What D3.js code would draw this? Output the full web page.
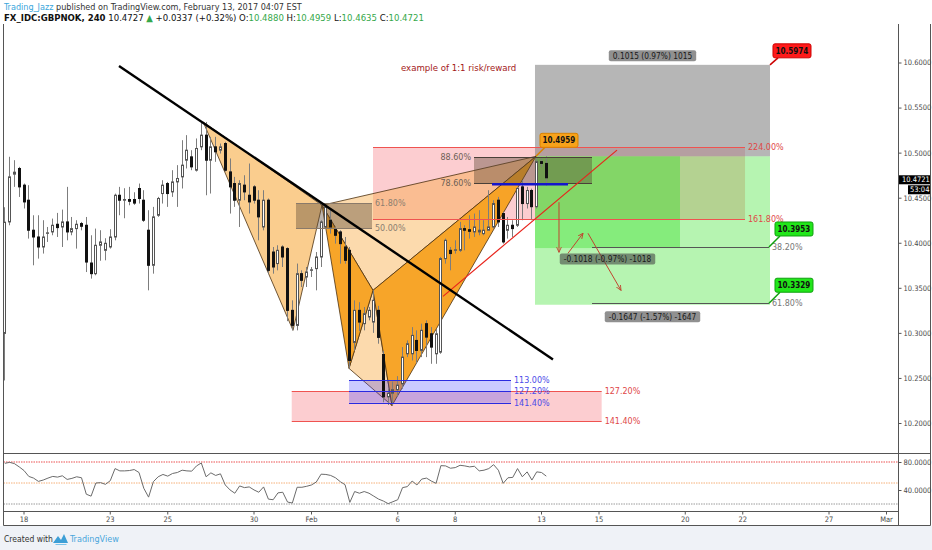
<!DOCTYPE html>
<html><head><meta charset="utf-8">
<script src="https://cdn.jsdelivr.net/npm/d3@7"></script>
<style>body{margin:0;background:#fff}svg{display:block}</style>
</head><body><svg id="c" width="932" height="550"></svg>
<script>
// ---------- DATA ----------
const dayTickPos = [0,3,5,8,10,13,15,18,20,23,25,28,30];
const dayTickLabels = ["18","23","25","30","Feb","6","8","13","15","20","22","27","Mar"];
const priceTicks = [10.20,10.25,10.30,10.35,10.40,10.45,10.50,10.55,10.60];
const rsiTicks = [40,80];
const rsiBands = [80,50,20];

const opens = [10.2994,10.4231,10.4761,10.4824,10.4639,10.4472,10.4139,10.4064,10.3953,10.4105,
10.4120,10.4205,10.4175,10.4231,10.4120,10.4157,10.4213,10.4194,10.3775,10.3657,
10.3972,10.3916,10.3953,10.4064,10.4527,10.4472,10.4480,10.4480,10.4602,10.4472,
10.4139,10.3750,10.4305,10.4546,10.4657,10.4564,10.4675,10.4731,10.4916,10.4953,
10.4805,10.5064,10.5194,10.4916,10.5064,10.5027,10.5101,10.4786,10.4657,10.4472,
10.4639,10.4527,10.4620,10.4472,10.4175,10.4472,10.3897,10.3769,10.3953,10.3935,
10.3250,10.3083,10.3657,10.3620,10.3694,10.3713,10.3842,10.4175,10.4250,10.4157,
10.4120,10.3953,10.3916,10.2894,10.3250,10.3102,10.3176,10.3120,10.3250,10.2760,
10.2290,10.2330,10.2370,10.2435,10.2768,10.2768,10.2916,10.2805,10.3102,10.2990,
10.2768,10.2786,10.3824,10.3916,10.3916,10.3916,10.4157,10.4145,10.4120,10.4120,
10.4101,10.4139,10.4175,10.4472,10.4324,10.4138,10.4194,10.4194,10.4620,10.4435,
10.4580,10.4400,10.4900,10.4880];
const highs = [10.4394,10.4954,10.4916,10.4842,10.4657,10.4639,10.4305,10.4305,10.4250,10.4175,
10.4268,10.4331,10.4368,10.4620,10.4286,10.4250,10.4231,10.4286,10.4083,10.4157,
10.4139,10.4050,10.4150,10.4545,10.4620,10.4605,10.4620,10.4560,10.4657,10.4583,
10.4361,10.4398,10.4509,10.4694,10.4675,10.4805,10.4861,10.5138,10.5194,10.5027,
10.5157,10.5330,10.5340,10.5175,10.5175,10.5101,10.5120,10.4935,10.4731,10.4694,
10.4749,10.4879,10.4639,10.4583,10.4583,10.4491,10.3953,10.3972,10.3972,10.3950,
10.3361,10.3769,10.3694,10.3731,10.3731,10.3897,10.4250,10.4416,10.4361,10.4175,
10.4139,10.4064,10.3953,10.3361,10.3340,10.3287,10.3287,10.3472,10.3300,10.2800,
10.2380,10.2460,10.2520,10.2842,10.2916,10.3064,10.3028,10.3102,10.3139,10.3064,
10.3046,10.3842,10.4046,10.3953,10.4027,10.4231,10.4194,10.4305,10.4324,10.4361,
10.4250,10.4583,10.4472,10.4509,10.4343,10.4286,10.4250,10.4620,10.4694,10.4620,
10.4600,10.4950,10.4950,10.4959];
const lows = [10.2472,10.4194,10.4620,10.4508,10.4380,10.4046,10.3750,10.3824,10.3880,10.4009,
10.4083,10.4064,10.3953,10.4027,10.4083,10.3935,10.4138,10.3675,10.3602,10.3639,
10.3800,10.3805,10.3935,10.4027,10.4305,10.4272,10.4416,10.4420,10.4435,10.4231,
10.3472,10.3657,10.4287,10.4435,10.4398,10.4509,10.4398,10.4602,10.4824,10.4805,
10.4790,10.5027,10.4527,10.4546,10.4898,10.4990,10.4790,10.4324,10.4398,10.4175,
10.4472,10.4324,10.4435,10.4027,10.4138,10.3657,10.3657,10.3694,10.3731,10.3130,
10.3028,10.3028,10.3509,10.3509,10.3620,10.3472,10.3731,10.4157,10.4101,10.3990,
10.3768,10.3768,10.2606,10.2802,10.3020,10.3028,10.3139,10.3000,10.2880,10.2230,
10.2200,10.2194,10.2290,10.2380,10.2731,10.2694,10.2657,10.2731,10.2731,10.2657,
10.2657,10.2768,10.3768,10.3694,10.3880,10.3898,10.3916,10.4046,10.4064,10.4083,
10.4083,10.4139,10.4157,10.4175,10.3990,10.4046,10.4064,10.4175,10.4250,10.4380,
10.4250,10.4380,10.4840,10.4635];
const closes = [10.4228,10.4731,10.4783,10.4620,10.4453,10.4139,10.4064,10.3953,10.4064,10.4110,
10.4194,10.4168,10.4231,10.4120,10.4157,10.4205,10.4183,10.3786,10.3657,10.3972,
10.4009,10.3994,10.4064,10.4527,10.4472,10.4480,10.4460,10.4440,10.4491,10.4250,
10.3750,10.4287,10.4491,10.4639,10.4546,10.4675,10.4713,10.4861,10.5027,10.4842,
10.5046,10.5194,10.4916,10.5064,10.5009,10.5064,10.4805,10.4620,10.4472,10.4657,
10.4564,10.4453,10.4472,10.4287,10.4472,10.3694,10.3731,10.3916,10.3842,10.3250,
10.3083,10.3657,10.3583,10.3676,10.3700,10.3842,10.4231,10.4398,10.4175,10.4083,
10.3990,10.3805,10.2694,10.3250,10.3120,10.3213,10.3250,10.3361,10.2950,10.2290,
10.2330,10.2370,10.2420,10.2731,10.2880,10.2972,10.2805,10.3028,10.2953,10.2842,
10.2990,10.3824,10.4027,10.3880,10.3922,10.4157,10.4139,10.4127,10.4175,10.4139,
10.4139,10.4175,10.4435,10.4231,10.4009,10.4194,10.4157,10.4602,10.4435,10.4580,
10.4400,10.4900,10.4880,10.4721];
const rsiValues = [78.1,79.5,77.7,73.0,67.8,59.4,57.0,52.3,54.2,57.0,
59.4,58.4,60.3,55.1,56.6,58.9,57.5,34.0,31.2,50.0,
50.5,48.1,53.3,70.6,67.3,67.3,67.8,69.2,65.0,42.5,
29.8,51.9,58.9,62.2,59.8,63.6,65.0,68.3,67.3,66.9,
74.4,78.6,58.9,64.5,60.8,63.1,47.2,40.1,35.4,45.8,
43.4,44.4,40.1,36.8,44.4,27.0,26.1,35.9,36.8,22.8,
21.4,43.9,43.9,45.3,47.2,51.4,62.6,62.2,60.8,57.5,
51.9,47.6,22.3,37.8,35.4,37.8,35.4,31.2,27.0,24.2,
20.5,23.3,26.1,43.4,44.8,52.8,47.2,55.6,57.0,52.8,
49.5,74.8,74.4,71.1,72.0,75.3,74.4,73.0,73.9,67.3,
68.3,70.6,76.2,68.3,49.5,57.5,58.0,70.6,58.9,65.9,
54.2,65.9,65.0,59.8];

// drawings, in [day position, price]
const patX1=[6.25,10.5340], patA1=[9.374,10.3028], patB1=[10.383,10.4416], patA2=[11.322,10.2606];
const patB2=[12.157,10.3472], patD=[12.817,10.2194], patE=[17.826,10.4959];
const trendBlack=[[3.322,10.5961],[18.417,10.2705]];
const trendRed=[[14.591,10.3405],[20.643,10.5028]];
const fibPink={t:[12.157,25.096], levels:[10.5057,10.4262], labels:["224.00%","161.80%"]};
const fibRetr={t:[15.670,19.774], levels:[10.4950,10.4661], labels:["88.60%","78.60%"]};
const fibMid={t:[9.478,12.122], levels:[10.4439,10.4161], labels:["61.80%","50.00%"]};
const fibBlue={t:[11.322,16.957], levels:[10.2472,10.2353,10.2224], labels:["113.00%","127.20%","141.40%"]};
const fibRed={t:[9.33,20.11], levels:[10.2353,10.2020], labels:["127.20%","141.40%"]};
const fibGreen={t:[19.774,25.930], levels:[10.3953,10.3329], labels:["38.20%","61.80%"]};
const blueLine={t:[16.296,18.939], p:10.4650};
const posTime=[17.791,25.965], posEntry=10.4959, posStop=10.5974;
const posTargets=[[22.835,10.3941],[25.965,10.3312]];
const posLabels=["0.1015 (0.97%) 1015","-0.1018 (-0.97%) -1018","-0.1647 (-1.57%) -1647"];
const arrows=[[[18.626,10.4450],[18.626,10.3894]],[[18.939,10.3883],[19.461,10.4105]],[[19.635,10.4105],[20.783,10.3472]]];
const noteText="example of 1:1 risk/reward", notePos=[13.13,10.5939];
const lastPrice=10.4721, countdown="53:04";

// ---------- SCALES ----------
const x=d3.scaleLinear().domain([0,30]).range([23.5,886]);
const y=d3.scaleLinear().domain([10.20,10.60]).range([423,62.5]);
const yR=d3.scaleLinear().domain([20,80]).range([504,462]);
const N=opens.length;
const bars=d3.range(N).map(i=>({t:18+(i-(N-2))/6,o:opens[i],h:highs[i],l:lows[i],c:closes[i],r:rsiValues[i]}));

const NARROW='"Liberation Sans Narrow","Arial Narrow","DejaVu Sans Condensed",sans-serif';
const DJ='"DejaVu Sans",Verdana,sans-serif';
const svg=d3.select("#c");
const defs=svg.append("defs");
defs.append("clipPath").attr("id","cm").append("rect").attr("x",3.5).attr("y",24).attr("width",894.5).attr("height",429);
defs.append("clipPath").attr("id","cr").append("rect").attr("x",3.5).attr("y",454).attr("width",894.5).attr("height",57);
defs.append("marker").attr("id","ah").attr("viewBox","0 0 8 8").attr("refX",7).attr("refY",4)
 .attr("markerWidth",6).attr("markerHeight",6).attr("orient","auto")
 .append("path").attr("d","M0,0.8 L7,4 L0,7.2").attr("fill","none").attr("stroke","#c0452f").attr("stroke-width",1.2);

svg.append("rect").attr("width",932).attr("height",550).attr("fill","#fff");
svg.append("rect").attr("x",0).attr("y",526).attr("width",932).attr("height",24).attr("fill","#eff2f7");

const P=p=>[x(p[0]),y(p[1])];
const poly=(g,pts,fill,op,stroke)=>g.append("polygon").attr("points",pts.map(p=>P(p).join(",")).join(" "))
  .attr("fill",fill).attr("fill-opacity",op).attr("stroke",stroke||"none").attr("stroke-width",0.8);
const rectD=(g,t0,t1,p0,p1,fill,op)=>g.append("rect").attr("x",x(t0)).attr("y",y(Math.max(p0,p1)))
  .attr("width",x(t1)-x(t0)).attr("height",Math.abs(y(p0)-y(p1))).attr("fill",fill).attr("fill-opacity",op);

const gm=svg.append("g").attr("clip-path","url(#cm)");
// zones
rectD(gm,fibRed.t[0],fibRed.t[1],fibRed.levels[0],fibRed.levels[1],"#f23645",0.25);
rectD(gm,fibPink.t[0],fibPink.t[1],fibPink.levels[0],fibPink.levels[1],"#f23645",0.25);
rectD(gm,posTime[0],posTime[1],posEntry,posStop,"#7a7a7a",0.55);
posTargets.forEach(d=>rectD(gm,posTime[0],d[0],posEntry,d[1],"#22dd11",0.33));
// harmonic patterns
poly(gm,[patX1,patA1,patB1],"#f7a83c",0.58,"#4a3010");
poly(gm,[patB1,patB2,patE],"#f7a83c",0.42,"#4a3010");
poly(gm,[patA2,patB2,patD],"#f7a83c",0.42,"#4a3010");
poly(gm,[patB1,patA2,patB2],"#f7a01e",0.95,"#4a3010");
poly(gm,[patB2,patD,patE],"#f7a01e",0.95,"#4a3010");
// fib boxes
rectD(gm,fibMid.t[0],fibMid.t[1],fibMid.levels[0],fibMid.levels[1],"#5a4632",0.4);
rectD(gm,fibRetr.t[0],fibRetr.t[1],fibRetr.levels[0],fibRetr.levels[1],"#5a4632",0.4);
rectD(gm,fibBlue.t[0],fibBlue.t[1],fibBlue.levels[0],fibBlue.levels[2],"#3a3aff",0.27);

// candles
const gc=gm.append("g");
const cx=d=>Math.round(x(d.t));
gc.selectAll("line").data(bars).join("line")
 .attr("x1",d=>cx(d)+0.5).attr("x2",d=>cx(d)+0.5).attr("y1",d=>y(d.h)).attr("y2",d=>y(d.l))
 .attr("stroke","#7d7d7d").attr("stroke-width",1);
gc.selectAll("rect").data(bars).join("rect")
 .attr("x",d=>cx(d)-0.5).attr("width",2)
 .attr("y",d=>y(Math.max(d.o,d.c))).attr("height",d=>Math.max(0.5,Math.abs(y(d.o)-y(d.c))))
 .attr("fill",d=>d.c>=d.o?"#fff":"#111").attr("stroke",d=>d.c>=d.o?"#555":"#111").attr("stroke-width",1);

// fib lines + labels
function fibLines(f,stroke,lab,anchorRight){
  f.levels.forEach((p,i)=>{
    gm.append("line").attr("x1",x(f.t[0])).attr("x2",x(f.t[1])).attr("y1",Math.round(y(p))+0.5).attr("y2",Math.round(y(p))+0.5)
      .attr("stroke",stroke).attr("stroke-width",1);
    gm.append("text").attr("x",anchorRight?x(f.t[0])-3:x(f.t[1])+3).attr("y",y(p)).attr("dy","0.36em")
      .attr("text-anchor",anchorRight?"end":"start").attr("font-family",DJ).attr("font-size",8)
      .attr("fill",lab).text(f.labels[i]);
  });
}
fibLines(fibRed,"#ef5350","#e04848",false);
fibLines(fibPink,"#ef5350","#e04848",false);
fibLines(fibMid,"#8a7a6a","#8a7d70",false);
fibLines(fibRetr,"#4a4038","#6d5f55",true);
fibLines(fibBlue,"#2a2ae0","#4a4ae8",false);
fibLines(fibGreen,"#555","#777",false);

// lines
gm.append("line").attr("x1",x(blueLine.t[0])).attr("x2",x(blueLine.t[1])).attr("y1",y(blueLine.p)).attr("y2",y(blueLine.p))
 .attr("stroke","#1515cc").attr("stroke-width",2.5);
gm.append("line").attr("x1",P(trendRed[0])[0]).attr("y1",P(trendRed[0])[1]).attr("x2",P(trendRed[1])[0]).attr("y2",P(trendRed[1])[1])
 .attr("stroke","#e8241c").attr("stroke-width",1.2);
gm.append("line").attr("x1",P(trendBlack[0])[0]).attr("y1",P(trendBlack[0])[1]).attr("x2",P(trendBlack[1])[0]).attr("y2",P(trendBlack[1])[1])
 .attr("stroke","#000").attr("stroke-width",2.4);
arrows.forEach(a=>gm.append("line").attr("x1",P(a[0])[0]).attr("y1",P(a[0])[1]).attr("x2",P(a[1])[0]).attr("y2",P(a[1])[1])
 .attr("stroke","#c0452f").attr("stroke-width",1).attr("marker-end","url(#ah)"));

// position-tool labels
function tag(cxp,cyp,txt){
  const g=gm.append("g");
  const t=g.append("text").attr("x",cxp).attr("y",cyp).attr("dy","0.35em").attr("text-anchor","middle")
   .attr("font-family",NARROW).attr("font-size",8.3).attr("fill","#1a1a1a").text(txt);
  const w=t.node().getComputedTextLength()+8;
  g.insert("rect","text").attr("x",cxp-w/2).attr("y",cyp-5.5).attr("width",w).attr("height",11).attr("rx",2)
   .attr("fill","#464646").attr("fill-opacity",0.6);
}
tag((x(posTime[0])+x(posTime[1]))/2, y(posStop)-9, posLabels[0]);
tag((x(posTime[0])+x(posTargets[0][0]))/2, y(posTargets[0][1])+11, posLabels[1]);
tag((x(posTime[0])+x(posTargets[1][0]))/2, y(posTargets[1][1])+12, posLabels[2]);

// price flags
function flag(ax,ay,txt,fill,stroke,bx,by){
  gm.append("line").attr("x1",ax).attr("y1",ay).attr("x2",bx+5).attr("y2",by).attr("stroke",stroke).attr("stroke-width",1.5);
  gm.append("rect").attr("x",bx).attr("y",by-14).attr("width",38).attr("height",14).attr("rx",2)
   .attr("fill",fill).attr("stroke",stroke).attr("stroke-width",1);
  gm.append("text").attr("x",bx+19).attr("y",by-7).attr("dy","0.36em").attr("text-anchor","middle")
   .attr("font-family",NARROW).attr("font-weight","bold").attr("font-size",8).attr("fill","#111").text(txt);
}
flag(P(patE)[0],P(patE)[1],d3.format(".4f")(patE[1]),"#f7a21b","#d98200",P(patE)[0]+4,P(patE)[1]-9);
flag(x(posTime[1]),y(posStop),d3.format(".4f")(posStop),"#ff1a1a","#cc0000",x(posTime[1])+3,y(posStop)-7);
fibGreen.levels.forEach(p=>flag(x(fibGreen.t[1]),y(p),d3.format(".4f")(p),"#22e61a","#10a010",x(fibGreen.t[1])+6,y(p)-11));

gm.append("text").attr("x",x(notePos[0])).attr("y",y(notePos[1])).attr("dy","0.36em").attr("font-family",DJ)
 .attr("font-size",8.6).attr("fill","#a31818").text(noteText);

// RSI pane
const gr=svg.append("g").attr("clip-path","url(#cr)");
const bandCol={80:"#f28b8b",50:"#f5b07a",20:"#9a9a9a"};
rsiBands.forEach(v=>gr.append("line").attr("x1",3.5).attr("x2",898).attr("y1",yR(v)).attr("y2",yR(v))
 .attr("stroke",bandCol[v]).attr("stroke-width",v===80?1.6:1).attr("stroke-dasharray","1.5,1"));
gr.append("path").datum(bars).attr("d",d3.line().x(d=>x(d.t)+0.5).y(d=>yR(d.r)))
 .attr("fill","none").attr("stroke","#6b6b6b").attr("stroke-width",1);

// frame
const fr=svg.append("g").attr("stroke","#555").attr("stroke-width",1).attr("fill","none");
fr.append("line").attr("x1",3.5).attr("x2",3.5).attr("y1",24).attr("y2",525.5);
fr.append("line").attr("x1",898.5).attr("x2",898.5).attr("y1",24).attr("y2",525.5);
fr.append("line").attr("x1",930.5).attr("x2",930.5).attr("y1",24).attr("y2",525.5);
fr.append("line").attr("x1",3.5).attr("x2",930.5).attr("y1",453.5).attr("y2",453.5);
fr.append("line").attr("x1",3.5).attr("x2",898.5).attr("y1",511.5).attr("y2",511.5);
fr.append("line").attr("x1",3.5).attr("x2",930.5).attr("y1",525.5).attr("y2",525.5);

// axes
function styleAxis(g){
  g.select(".domain").remove();
  g.selectAll("line").attr("stroke","#555");
  g.selectAll("text").attr("font-family",NARROW).attr("font-size",7.5).attr("fill","#4a4a4a");
}
svg.append("g").attr("transform","translate(898.5,0)")
 .call(d3.axisRight(y).tickValues(priceTicks).tickFormat(d3.format(".4f")).tickSize(3).tickPadding(2)).call(styleAxis);
svg.append("g").attr("transform","translate(898.5,0)")
 .call(d3.axisRight(yR).tickValues(rsiTicks).tickFormat(d3.format(".4f")).tickSize(3).tickPadding(2)).call(styleAxis);
svg.append("g").attr("transform","translate(0,511.5)")
 .call(d3.axisBottom(x).tickValues(dayTickPos).tickFormat((d,i)=>dayTickLabels[i]).tickSize(3).tickPadding(2)).call(styleAxis);

// last price tags
const ly=y(lastPrice)+2;
svg.append("rect").attr("x",899).attr("y",ly-4.5).attr("width",31).attr("height",9).attr("fill","#000");
svg.append("text").attr("x",902).attr("y",ly).attr("dy","0.36em").attr("font-family",NARROW).attr("font-size",7.5).attr("fill","#fff").text(d3.format(".4f")(lastPrice));
svg.append("rect").attr("x",908).attr("y",ly+5.5).attr("width",22).attr("height",9).attr("fill","#000");
svg.append("text").attr("x",910).attr("y",ly+10).attr("dy","0.36em").attr("font-family",NARROW).attr("font-size",7.5).attr("fill","#fff").text(countdown);

// header
const h1=svg.append("text").attr("x",4).attr("y",9.5).attr("font-family",NARROW).attr("font-size",9).attr("fill","#333");
h1.append("tspan").attr("fill","#3aa6dc").text("Trading_Jazz");
h1.append("tspan").text(" published on TradingView.com, February 13, 2017 04:07 EST");
const G="#35a84a";
const h2=svg.append("text").attr("x",4).attr("y",21).attr("font-family",NARROW).attr("font-size",9.5).attr("fill","#111");
h2.append("tspan").attr("font-weight","bold").text("FX_IDC:GBPNOK, 240");
h2.append("tspan").text(" 10.4727 ");
h2.append("tspan").attr("fill",G).text("▲");
h2.append("tspan").text(" +0.0337 (+0.32%) O:");
h2.append("tspan").attr("fill",G).text("10.4880");
h2.append("tspan").text(" H:");
h2.append("tspan").attr("fill",G).text("10.4959");
h2.append("tspan").text(" L:");
h2.append("tspan").attr("fill",G).text("10.4635");
h2.append("tspan").text(" C:");
h2.append("tspan").attr("fill",G).text(d3.format(".4f")(lastPrice));

// footer
svg.append("text").attr("x",4).attr("y",542).attr("font-family",NARROW).attr("font-size",8.5).attr("fill","#333").text("Created with");
const lg=svg.append("g").attr("transform","translate(53,533)").attr("fill","#3d9fd6");
lg.append("path").attr("d","M0,10 L5,3 L8,7 L11,1 L15,10 Z");
lg.append("path").attr("d","M2,11 L14,11 L13,12 L3,12 Z").attr("fill","#7cc3ea");
svg.append("text").attr("x",70).attr("y",542).attr("font-family",NARROW).attr("font-size",9).attr("fill","#4aa6dc").text("TradingView");
</script></body></html>
